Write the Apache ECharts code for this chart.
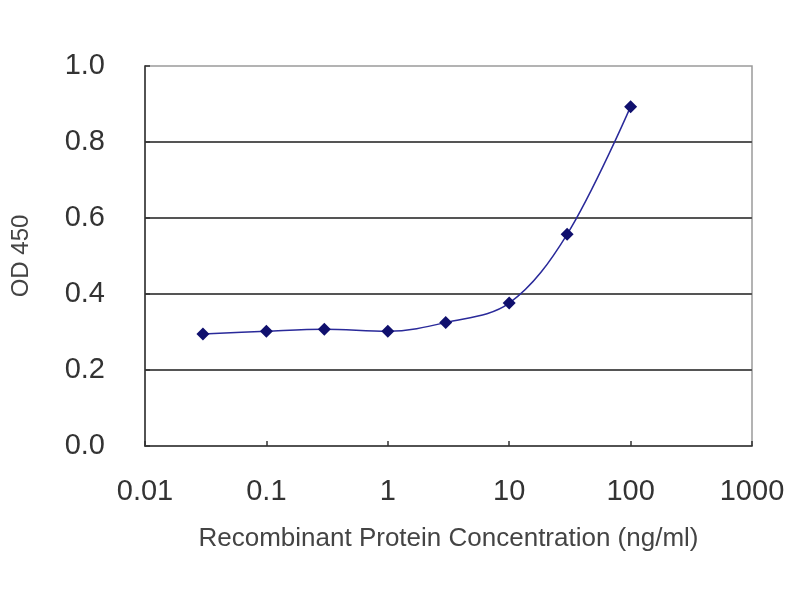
<!DOCTYPE html>
<html><head><meta charset="utf-8">
<script src="https://cdn.jsdelivr.net/npm/echarts@6/dist/echarts.min.js"></script>
<style>html,body{margin:0;padding:0;background:#fff}#c{width:800px;height:600px}</style>
</head><body><div id="c"></div>
<script>
const concentrations = [0.03, 0.1, 0.3, 1, 3, 10, 30, 100];
const od450 = [0.295, 0.302, 0.307, 0.302, 0.325, 0.376, 0.557, 0.893];
const xTicks = [0.01, 0.1, 1, 10, 100, 1000];
const yTicks = [0.0, 0.2, 0.4, 0.6, 0.8, 1.0];

const chart = echarts.init(document.getElementById('c'));
chart.setOption({
  animation: false,
  backgroundColor: '#fff',
  grid: { left: 145, right: 48, top: 66, bottom: 154, show: true, borderColor: '#9a9a9a', borderWidth: 1.5 },
  xAxis: {
    type: 'log', logBase: 10, min: xTicks[0], max: xTicks[xTicks.length - 1],
    name: 'Recombinant Protein Concentration (ng/ml)', nameLocation: 'middle', nameGap: 80,
    nameTextStyle: { fontFamily: 'Liberation Sans', fontSize: 26, color: '#444' },
    axisLine: { show: true, lineStyle: { color: '#333', width: 1.5 } },
    axisTick: { show: true, inside: true, length: 5, lineStyle: { color: '#333', width: 1.5 } },
    minorTick: { show: false },
    splitLine: { show: false },
    axisLabel: { fontFamily: 'Liberation Sans', fontSize: 29, color: '#333', margin: 31,
      formatter: v => { const t = xTicks.find(x => Math.abs(Math.log10(x) - Math.log10(v)) < 1e-6); return t !== undefined ? String(t) : ''; } }
  },
  yAxis: {
    type: 'value', min: 0, max: 1, interval: 0.2,
    name: 'OD 450', nameLocation: 'middle', nameGap: 112, nameRotate: 90,
    nameTextStyle: { fontFamily: 'Liberation Sans', fontSize: 24, color: '#444' },
    axisLine: { show: true, lineStyle: { color: '#333', width: 1.5 } },
    axisTick: { show: true, inside: true, length: 5, lineStyle: { color: '#333', width: 1.5 } },
    splitLine: { show: true, showMinLine: false, showMaxLine: false, lineStyle: { color: '#555', width: 2 } },
    axisLabel: { fontFamily: 'Liberation Sans', fontSize: 29, color: '#333', margin: 40, formatter: v => v.toFixed(1) }
  },
  series: [{
    type: 'line',
    data: concentrations.map((c, i) => [c, od450[i]]),
    smooth: 0.35,
    symbol: 'diamond', symbolSize: 13,
    lineStyle: { color: '#2a2a9a', width: 1.5 },
    itemStyle: { color: '#10106e' }
  }]
});
</script></body></html>
